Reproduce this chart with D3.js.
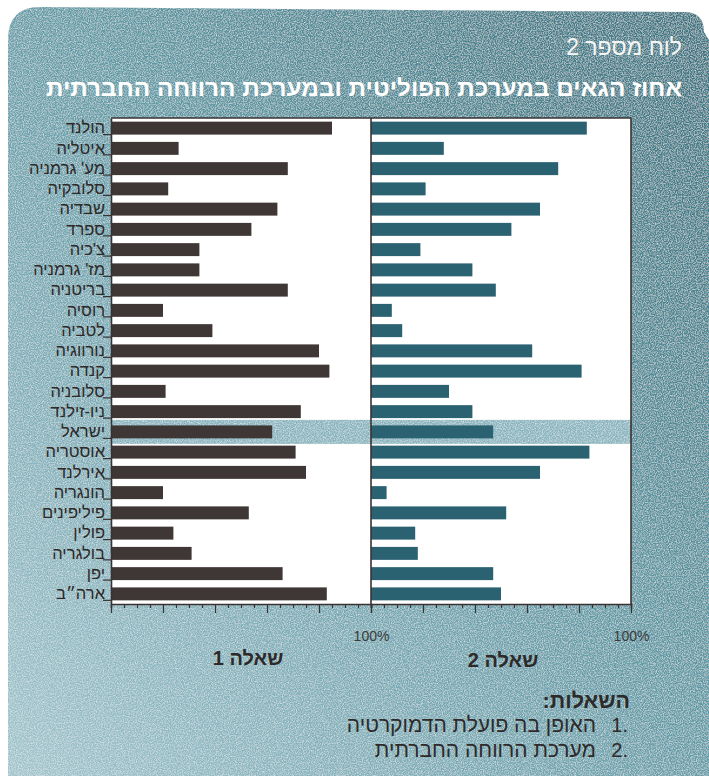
<!DOCTYPE html>
<html><head><meta charset="utf-8">
<script src="https://cdn.jsdelivr.net/npm/d3@7"></script>
<style>
html,body{margin:0;padding:0;background:#fff;}
svg{display:block;}
text{font-family:"Liberation Sans","DejaVu Sans",Arial,sans-serif;}
</style></head>
<body>
<script>
const categories = ["הולנד","איטליה","מע' גרמניה","סלובקיה","שבדיה","ספרד","צ'כיה","מז' גרמניה","בריטניה","רוסיה","לטביה","נורווגיה","קנדה","סלובניה","ניו-זילנד","ישראל","אוסטריה","אירלנד","הונגריה","פיליפינים","פולין","בולגריה","יפן","ארה״ב"];
const q1Values = [85,26,68,22,64,54,34,34,68,20,39,80,84,21,73,62,71,75,20,53,24,31,66,83];
const q2Values = [83,28,72,21,65,54,19,39,48,8,12,62,81,30,39,47,84,65,6,52,17,18,47,50];
const highlight = "ישראל";
const panelTitles = ["שאלה 1","שאלה 2"];
const tickValues = d3.range(0,101,5);
const chartNumber = "לוח מספר 2";
const chartTitle = "אחוז הגאים במערכת הפוליטית ובמערכת הרווחה החברתית";
const legendTitle = "השאלות:\u200F";
const legendItems = ["האופן בה פועלת הדמוקרטיה","מערכת הרווחה החברתית"];

const W = 709, H = 776;
const svg = d3.select("body").append("svg").attr("width",W).attr("height",H);
const defs = svg.append("defs");
const g1 = defs.append("linearGradient").attr("id","bg").attr("x1","1").attr("y1","0").attr("x2","0").attr("y2","1");
g1.append("stop").attr("offset","0").attr("stop-color","#397380");
g1.append("stop").attr("offset","0.45").attr("stop-color","#5f9aa6");
g1.append("stop").attr("offset","1").attr("stop-color","#a3c6ce");
const f = defs.append("filter").attr("id","noise").attr("x","0").attr("y","0").attr("width","1").attr("height","1");
f.append("feTurbulence").attr("type","fractalNoise").attr("baseFrequency","0.85").attr("numOctaves","2").attr("seed","3").attr("result","n");
f.append("feColorMatrix").attr("in","n").attr("type","matrix")
 .attr("values","0 0 0 0 0.92  0 0 0 0 0.92  0 0 0 0 0.92  0 0 0 1.3 -0.5").attr("result","nm");
f.append("feComposite").attr("in","nm").attr("in2","SourceGraphic").attr("operator","in").attr("result","nc");
f.append("feMerge").call(m=>{m.append("feMergeNode").attr("in","SourceGraphic");m.append("feMergeNode").attr("in","nc");});

// background shape
const bgPath = "M8,40 Q8,7 40,7 L684,12 Q704,12 704,32 L709,40 L709,790 L8,790 Z";
svg.append("path").attr("d",bgPath).attr("fill","url(#bg)").attr("filter","url(#noise)");

// titles
svg.append("text").attr("x",682).attr("y",55).attr("text-anchor","end")
  .attr("fill","#f4f6f6").attr("font-size",23).attr("font-family","DejaVu Sans Condensed, DejaVu Sans").attr("font-weight",300)
  .style("font-stretch","condensed").text(chartNumber);
svg.append("text").attr("x",682).attr("y",96).attr("text-anchor","end")
  .attr("fill","#ffffff").attr("font-size",23).attr("font-weight","bold")
  .attr("textLength",636).attr("lengthAdjust","spacingAndGlyphs").text(chartTitle);

// scales
const plotTop = 118, plotBottom = 604;
const y = d3.scaleBand().domain(categories).range([plotTop,plotBottom]).paddingInner(0.36).paddingOuter(0.18);
const x1 = d3.scaleLinear().domain([0,100]).range([111,371]);
const x2 = d3.scaleLinear().domain([0,100]).range([371,631]);

// white panels
svg.append("rect").attr("x",x1(0)).attr("y",plotTop).attr("width",x2(100)-x1(0)).attr("height",plotBottom-plotTop).attr("fill","#ffffff");

// highlight band
const hb = y(highlight) + y.bandwidth()/2;
svg.append("rect").attr("x",x1(0)).attr("y",hb-12).attr("width",x2(100)-x1(0)).attr("height",24)
  .attr("fill","#88b5bf").attr("filter","url(#noise)");

// bars
svg.append("g").selectAll("rect").data(categories).join("rect")
  .attr("x",x1(0)).attr("y",d=>y(d)).attr("height",y.bandwidth())
  .attr("width",(d,i)=>x1(q1Values[i])-x1(0)).attr("fill","#3f3736");
svg.append("g").selectAll("rect").data(categories).join("rect")
  .attr("x",x2(0)).attr("y",d=>y(d)).attr("height",y.bandwidth())
  .attr("width",(d,i)=>x2(q2Values[i])-x2(0)).attr("fill","#2b6272");

// frame lines
const frame = svg.append("g").attr("stroke","#3a3232").attr("stroke-width",1.6).attr("fill","none");
frame.append("line").attr("x1",x1(0)).attr("x2",x2(100)).attr("y1",plotTop).attr("y2",plotTop);
frame.append("line").attr("x1",x2(0)).attr("x2",x2(0)).attr("y1",plotTop).attr("y2",plotBottom);
frame.append("line").attr("x1",x2(100)).attr("x2",x2(100)).attr("y1",plotTop).attr("y2",plotBottom);

// left axis labels
const ya = svg.append("g").attr("transform",`translate(${x1(0)},0)`)
  .call(d3.axisLeft(y).tickSize(0).tickPadding(6));
ya.select(".domain").attr("stroke","#3a3232").attr("stroke-width",1.6);
ya.selectAll("text").attr("font-size",16.5).attr("fill","#2e2828")
  .attr("font-family","Liberation Sans, DejaVu Sans, Arial, sans-serif");
// small category ticks
svg.append("g").selectAll("line").data(categories).join("line")
  .attr("x1",x1(0)-8).attr("x2",x1(0))
  .attr("y1",d=>y(d)+y.bandwidth()).attr("y2",d=>y(d)+y.bandwidth())
  .attr("stroke","#3a3232").attr("stroke-width",1.2);

// bottom axes
function bottomAxis(sc){
  const g = svg.append("g").attr("transform",`translate(0,${plotBottom})`)
    .call(d3.axisBottom(sc).tickValues(tickValues).tickSize(4).tickPadding(23)
      .tickFormat(d=>d===100?"100%":""));
  g.select(".domain").attr("stroke","#3a3232").attr("stroke-width",1.6);
  g.selectAll(".tick line").attr("stroke","#3a3232").attr("stroke-width",1.2)
    .attr("y2",d=>d%20===0?9:4);
  g.selectAll(".tick text").attr("font-size",14).attr("fill","#3b3b3b")
    .attr("font-family","Liberation Sans, Arial, sans-serif");
  return g;
}
bottomAxis(x1);
bottomAxis(x2);

// panel titles
svg.selectAll(".ptitle").data(panelTitles).join("text").attr("class","ptitle")
  .attr("x",(d,i)=>i===0?(x1(0)+x1(100))/2 + 7:(x2(0)+x2(100))/2 + 2)
  .attr("y",(d,i)=>i===0?665:667).attr("text-anchor","middle")
  .attr("font-size",20).attr("font-weight","bold").attr("fill","#2e2a2a").text(d=>d);

// legend
svg.append("text").attr("x",630).attr("y",708).attr("text-anchor","end")
  .attr("font-size",21.5).attr("font-weight","bold").attr("fill","#2e2a2a").text(legendTitle);
const lg = svg.selectAll(".li").data(legendItems).join("g").attr("class","li")
  .attr("transform",(d,i)=>`translate(0,${732+i*25})`);
lg.append("text").attr("x",628).attr("text-anchor","end").attr("font-size",20).attr("fill","#2e2a2a")
  .text((d,i)=>(i+1)+".");
lg.append("text").attr("x",596).attr("text-anchor","end").attr("font-size",21).attr("fill","#2e2a2a").text(d=>d);
</script>
</body></html>
